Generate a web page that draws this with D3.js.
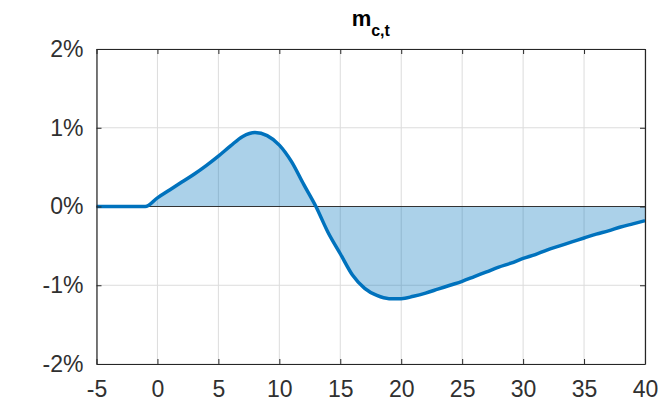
<!DOCTYPE html>
<html>
<head>
<meta charset="utf-8">
<script src="https://cdn.jsdelivr.net/npm/d3@7"></script>
<style>
  body { margin: 0; background: #fff; }
  text { font-family: "Liberation Sans", Arial, sans-serif; }
</style>
</head>
<body>
<script>
const horizon = d3.range(-5, 41)
const mct = [
  0, 0, 0, 0, 0,
  0.11, 0.21, 0.31, 0.41, 0.52, 0.64, 0.77, 0.89, 0.94, 0.90,
  0.78, 0.57, 0.28, 0.0, -0.33, -0.60, -0.87, -1.04, -1.13, -1.17,
  -1.17, -1.14, -1.10, -1.05, -1.00, -0.95, -0.89, -0.83, -0.77, -0.72,
  -0.66, -0.61, -0.55, -0.50, -0.45, -0.40, -0.35, -0.31, -0.26, -0.22,
  -0.18
]
const xTicks = [-5, 0, 5, 10, 15, 20, 25, 30, 35, 40]
const yTicks = [-2, -1, 0, 1, 2]

const W = 660, H = 407
const m = { left: 96.5, right: 15, top: 49, bottom: 43 }

const svg = d3.select(document.body).append('svg')
  .attr('width', W)
  .attr('height', H)

const x = d3.scaleLinear([-5, 40], [m.left, W - m.right])
const y = d3.scaleLinear([-2, 2], [H - m.bottom, m.top])

const data = horizon.map((h, i) => [h, mct[i]])

// grid
svg.append('g')
  .selectAll('line')
  .data(xTicks)
  .join('line')
  .attr('x1', d => x(d)).attr('x2', d => x(d))
  .attr('y1', y(-2)).attr('y2', y(2))
  .attr('stroke', '#dcdcdc').attr('stroke-width', 1)
svg.append('g')
  .selectAll('line')
  .data(yTicks)
  .join('line')
  .attr('y1', d => y(d)).attr('y2', d => y(d))
  .attr('x1', x(-5)).attr('x2', x(40))
  .attr('stroke', '#dcdcdc').attr('stroke-width', 1)

// area
const area = d3.area()
  .x(d => x(d[0]))
  .y0(y(0))
  .y1(d => y(d[1]))
  .curve(d3.curveMonotoneX)
svg.append('path')
  .attr('d', area(data))
  .attr('fill', '#0072BD')
  .attr('fill-opacity', 0.33)

// zero line
svg.append('line')
  .attr('x1', x(-5)).attr('x2', x(40))
  .attr('y1', y(0)).attr('y2', y(0))
  .attr('stroke', '#333').attr('stroke-width', 1)

// curve
const line = d3.line().x(d => x(d[0])).y(d => y(d[1])).curve(d3.curveMonotoneX)
svg.append('path')
  .attr('d', line(data))
  .attr('fill', 'none')
  .attr('stroke', '#0072BD')
  .attr('stroke-width', 3.5)
  .attr('stroke-linejoin', 'round')

// axes
const hyphen = v => String(v)
svg.append('g')
  .attr('transform', `translate(0,${y(-2)})`)
  .call(d3.axisBottom(x).tickValues(xTicks).tickSizeInner(-5).tickSizeOuter(0).tickPadding(17)
    .tickFormat(hyphen))
svg.append('g')
  .attr('transform', `translate(${x(-5)},0)`)
  .call(d3.axisLeft(y).tickValues(yTicks).tickSizeInner(-5).tickSizeOuter(0).tickPadding(13)
    .tickFormat(d => hyphen(d) + '%'))
svg.append('g')
  .attr('transform', `translate(${x(40)},0)`)
  .call(d3.axisRight(y).tickValues(yTicks).tickSizeInner(-5).tickSizeOuter(0).tickFormat(''))
svg.append('g')
  .attr('transform', `translate(0,${y(2)})`)
  .call(d3.axisTop(x).tickValues(xTicks).tickSizeInner(-5).tickSizeOuter(0).tickFormat(''))

svg.selectAll('.domain').attr('stroke', '#262626').attr('stroke-width', 1.2)
svg.selectAll('.tick line').attr('stroke', '#262626')
svg.selectAll('.tick text')
  .attr('fill', '#303030')
  .style('font-size', '23px')
  .style('font-family', '"Liberation Sans", Arial, sans-serif')

// title
const title = svg.append('text')
  .attr('x', x(17.5))
  .attr('y', 26)
  .attr('text-anchor', 'middle')
  .attr('font-weight', 'bold')
  .attr('fill', '#000')
title.append('tspan').text('m').style('font-size', '22px')
title.append('tspan').text('c,t').attr('dy', 10).style('font-size', '16px')
</script>
</body>
</html>
